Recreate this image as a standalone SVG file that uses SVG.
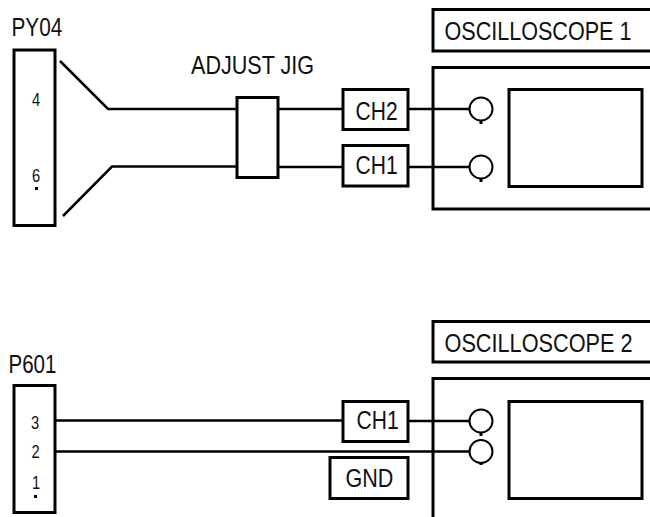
<svg xmlns="http://www.w3.org/2000/svg" width="650" height="517" viewBox="0 0 650 517">
<style>
.b{fill:none;stroke:#000;stroke-width:3}
.w{fill:none;stroke:#000;stroke-width:2.5}
.c{fill:none;stroke:#000;stroke-width:2}
.t{font-family:"Liberation Sans",Arial,sans-serif;font-size:26px;fill:#111}
.s{font-family:"Liberation Sans",Arial,sans-serif;font-size:18px;fill:#111}
</style>
<rect width="650" height="517" fill="#fff"/>
<g id="connectors">
<path class="w" d="M60 61L108 109H237M63 216L112 166.500H237M278 109H343M278 167H343M408 109H469M408 167H469"/>
<path class="w" d="M55 420.500H343M408 421H469M55 451.500H469"/>
</g>
<g id="py04"><rect class="b" x="14" y="50" width="41" height="175.500"/>
<text class="t" transform="translate(11.500 36) scale(.8 1)">PY04</text>
<text class="s" transform="translate(32 106) scale(.82 1)">4</text>
<text class="s" transform="translate(32 181.500) scale(.82 1)">6</text>
<rect x="35" y="187" width="3" height="3"/></g>
<g id="adjust-jig"><rect class="b" x="237" y="97.500" width="41" height="80"/>
<text class="t" transform="translate(191 74) scale(.83 1)">ADJUST JIG</text></g>
<g id="ch2"><rect class="b" x="343" y="89.500" width="65" height="40"/>
<text class="t" transform="translate(355.500 120) scale(.81 1)">CH2</text></g>
<g id="ch1-top"><rect class="b" x="343" y="145.500" width="65" height="40.500"/>
<text class="t" transform="translate(355.500 173.500) scale(.81 1)">CH1</text></g>
<g id="osc1-title"><path class="b" d="M650 9.500H433V51H650"/>
<text class="t" transform="translate(444.500 39.500) scale(.83 1)">OSCILLOSCOPE 1</text></g>
<g id="osc1"><path class="b" d="M650 67.500H433V209H650"/>
<rect class="b" x="509" y="89.500" width="133" height="97"/>
<circle class="c" cx="481" cy="109" r="11.500"/><path class="b" d="M481 120V124"/>
<circle class="c" cx="481" cy="167" r="11.500"/><path class="b" d="M481 178V182"/></g>
<g id="p601"><rect class="b" x="14" y="385.500" width="41" height="127"/>
<text class="t" transform="translate(8.500 372.500) scale(.79 1)">P601</text>
<text class="s" transform="translate(31 428.500) scale(.82 1)">3</text>
<text class="s" transform="translate(31.500 458) scale(.82 1)">2</text>
<text class="s" transform="translate(32 489) scale(.82 1)">1</text>
<rect x="34" y="495" width="3" height="3"/></g>
<g id="ch1-bottom"><rect class="b" x="343" y="401.500" width="65" height="40"/>
<text class="t" transform="translate(356.500 429) scale(.81 1)">CH1</text></g>
<g id="gnd"><rect class="b" x="330" y="457.500" width="78" height="41"/>
<text class="t" transform="translate(345.500 487) scale(.83 1)">GND</text></g>
<g id="osc2-title"><path class="b" d="M650 321.500H433V362H650"/>
<text class="t" transform="translate(444.500 351.500) scale(.835 1)">OSCILLOSCOPE 2</text></g>
<g id="osc2"><path class="b" d="M650 378.500H433V517"/>
<rect class="b" x="509" y="401.500" width="133" height="97"/>
<circle class="c" cx="481" cy="421" r="11.500"/><path class="b" d="M481 432V436"/>
<circle class="c" cx="481" cy="451.500" r="11.500"/><path class="b" d="M481 463V465"/></g>
</svg>
